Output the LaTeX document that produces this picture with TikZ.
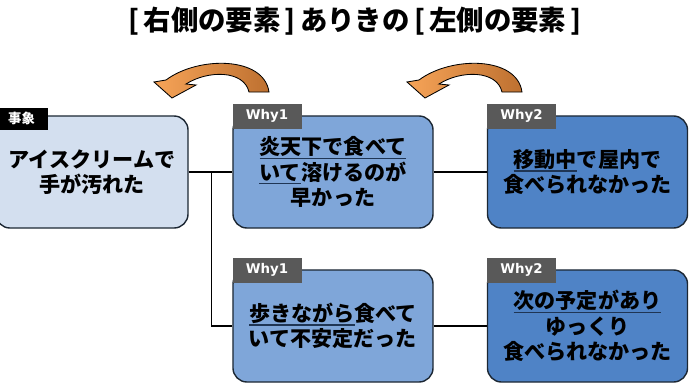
\documentclass[tikz,border=0pt]{standalone}
\usepackage{fontspec}
\setmainfont{Noto Sans CJK JP}
\newfontfamily\tagfont{DejaVu Sans}
\usetikzlibrary{positioning,calc}
\definecolor{evfill}{HTML}{D3DFEF}
\definecolor{wafill}{HTML}{7FA6D9}
\definecolor{wbfill}{HTML}{4F83C6}
\definecolor{edgecol}{HTML}{1C2733}
\definecolor{tagbg}{HTML}{595959}
\definecolor{ulcol}{HTML}{1F3554}
\definecolor{arrA}{HTML}{F7A458}
\definecolor{arrB}{HTML}{BD7030}
\newcommand{\uln}[1]{\sbox0{#1}{\color{ulcol}\rlap{\rule[-3pt]{\wd0}{1pt}}}\usebox0}
\newcommand{\lbr}{\kern3pt[\kern3pt}
\newcommand{\rbr}{\kern3pt]\kern3pt}
\tikzset{
  cause/.style={draw=edgecol, line width=1pt, rounded corners=10pt, minimum width=5cm,
                minimum height=2.8cm, align=center, inner sep=2pt,
                font=\bfseries\fontsize{15}{18}\selectfont},
  whytag/.style={fill=tagbg, text=white, anchor=north west, minimum width=1.725cm,
                 minimum height=0.625cm, inner sep=0pt, font=\tagfont\bfseries\fontsize{9.5}{11}\selectfont},
  link/.style={line width=0.9pt},
  curvarrow/.style={draw=black, line width=0.6pt, shading=axis, left color=arrA, right color=arrB}
}
\begin{document}
\begin{tikzpicture}[x=0.025cm, y=-0.025cm]
\useasboundingbox (0,0) rectangle (691,389);
\node[font=\bfseries\fontsize{19.5}{22}\selectfont] (title) at (355,21) {\lbr 右側の要素\rbr ありきの\lbr 左側の要素\rbr};
\node[cause, fill=evfill, minimum width=4.8cm] (ev) at (92,172) {アイスクリームで\\手が汚れた};
\node[cause, fill=wafill] (w1a) at (333,172) {\uln{炎天下で食べて}\\\uln{いて}溶けるのが\\早かった};
\node[cause, fill=wbfill] (w2a) at (587.5,172) {\uln{移動中}で屋内で\\食べられなかった};
\node[cause, fill=wafill] (w1b) at (333,326) {\uln{歩きながら}食べて\\いて不安定だった};
\node[cause, fill=wbfill] (w2b) at (587.5,326) {\uln{次の予定があり}\\ゆっくり\\食べられなかった};
\node[whytag, fill=black, minimum width=1.3cm, minimum height=0.55cm,
      font=\bfseries\fontsize{9.5}{11}\selectfont] (t0) at ([yshift=0.2cm]ev.north west) {事象};
\node[whytag] (t1) at ([yshift=0.3cm]w1a.north west) {Why1};
\node[whytag] (t2) at ([yshift=0.3cm]w2a.north west) {Why2};
\node[whytag] (t3) at ([yshift=0.3cm]w1b.north west) {Why1};
\node[whytag] (t4) at ([yshift=0.3cm]w2b.north west) {Why2};
\coordinate (split) at ($(ev.east)!0.53!(w1a.west)$);
\draw[link] (ev.east) -- (w1a.west);
\draw[link] (split) |- (w1b.west);
\draw[link] (w1a.east) -- (w2a.west);
\draw[link] (w1b.east) -- (w2b.west);
\foreach \dx in {0,253}{
  \draw[curvarrow] (269+\dx,92) .. controls (264+\dx,56) and (198+\dx,56) .. (166+\dx,80)
    -- (154+\dx,82) -- (172+\dx,98) -- (196+\dx,85) -- (186+\dx,84)
    .. controls (208+\dx,70) and (244+\dx,70) .. (249+\dx,92) -- cycle;
}
\end{tikzpicture}
\end{document}
